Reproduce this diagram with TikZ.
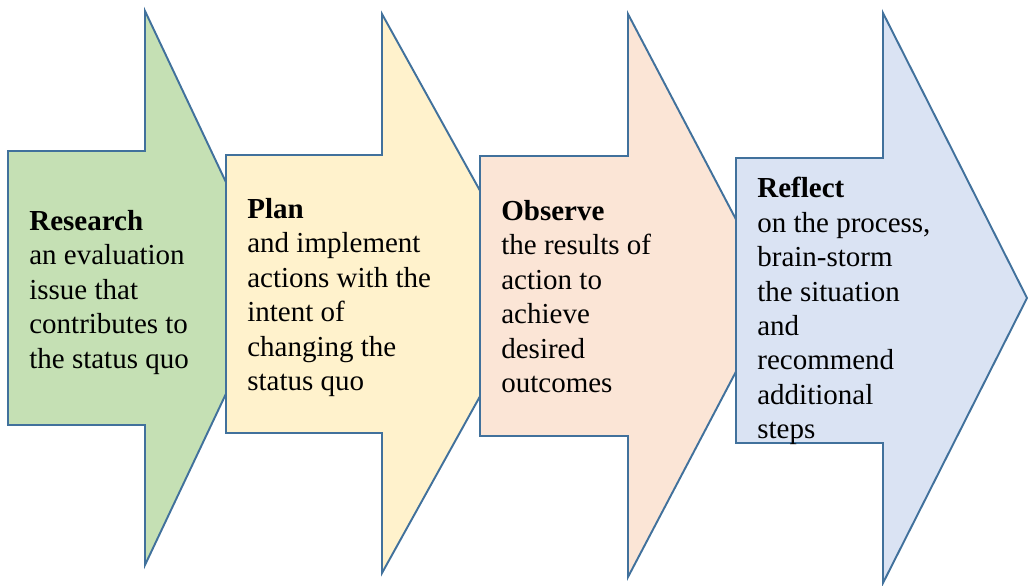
\documentclass[tikz,border=0pt]{standalone}
\usepackage{xcolor}
\usepackage{fontspec}
\setmainfont{Liberation Serif}
\usepackage{tikz}

\definecolor{edgeblue}{HTML}{41719C}
\definecolor{researchgreen}{HTML}{C5E0B4}
\definecolor{planyellow}{HTML}{FFF2CC}
\definecolor{observepeach}{HTML}{FBE5D6}
\definecolor{reflectblue}{HTML}{DAE3F3}

\tikzset{
    stagearrow/.style={draw=edgeblue, line width=1.1pt, line join=miter},
    stagetext/.style={anchor=north west, inner sep=0pt, align=left,
        font=\fontsize{16.5}{19.6}\selectfont}
}

\begin{document}
\begin{tikzpicture}[x=0.02cm, y=-0.02cm]
        \useasboundingbox (0,0) rectangle (1030,585);
        % the four stages, each one laid over the tip of the one before
        \fill[researchgreen, stagearrow] (8,151) -- (145,151) -- (145,11) -- (276,288)
            -- (145,565) -- (145,425) -- (8,425) -- cycle;
        \fill[planyellow, stagearrow] (226,155) -- (382,155) -- (382,14) -- (537,293.5)
            -- (382,573) -- (382,433) -- (226,433) -- cycle;
        \fill[observepeach, stagearrow] (480,156) -- (628,156) -- (628,14) -- (776,295.5)
            -- (628,577) -- (628,436) -- (480,436) -- cycle;
        \fill[reflectblue, stagearrow] (736,158) -- (883,158) -- (883,13) -- (1027,298)
            -- (883,583) -- (883,443) -- (736,443) -- cycle;

        \node[stagetext] (research) at (29,210) {\textbf{Research}\\an evaluation\\issue that\\contributes to\\the status quo};
        \node[stagetext] (plan) at (247,198) {\textbf{Plan}\\and implement\\actions with the\\intent of\\changing the\\status quo};
        \node[stagetext] (observe) at (501,200) {\textbf{Observe}\\the results of\\action to\\achieve\\desired\\outcomes};
        \node[stagetext] (reflect) at (757,177) {\textbf{Reflect}\\on the process,\\brain-storm\\the situation\\and\\recommend\\additional\\steps};
    \end{tikzpicture}
\end{document}
